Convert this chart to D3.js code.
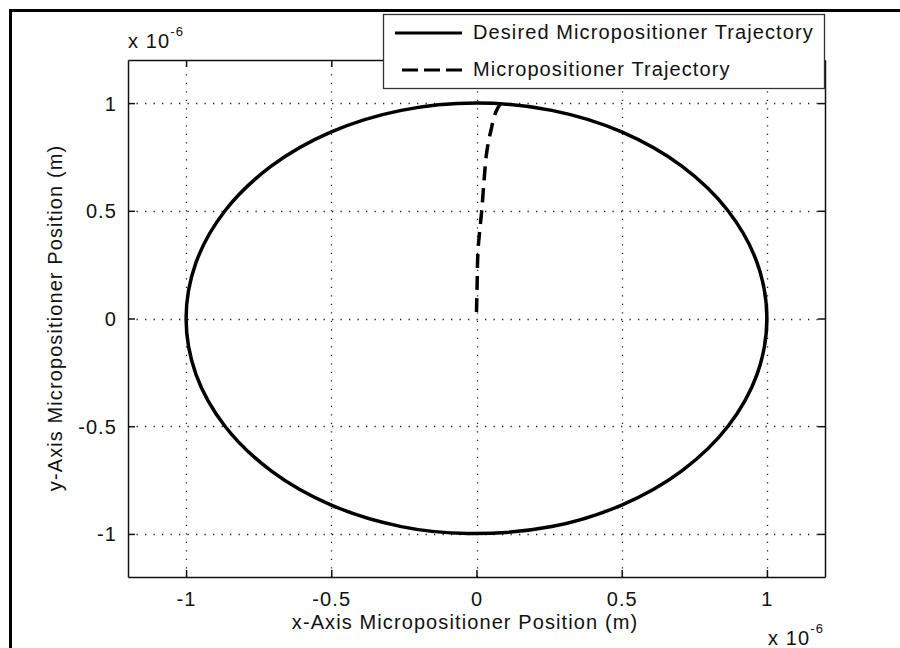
<!DOCTYPE html>
<html>
<head>
<meta charset="utf-8">
<script src="https://cdn.jsdelivr.net/npm/d3@7"></script>
<style>
  html, body { margin: 0; padding: 0; background: #fff; }
  svg { display: block; }
  text { font-family: "Liberation Sans", Arial, sans-serif; fill: #111; }
</style>
</head>
<body>
<svg id="chart" width="900" height="648"></svg>
<script>
// ---- data (units of 1e-6 m) ----
const xTicks = [-1, -0.5, 0, 0.5, 1];
const yTicks = [-1, -0.5, 0, 0.5, 1];
const tickLabels = ["-1", "-0.5", "0", "0.5", "1"];

// Desired trajectory (circle)
const desiredX = [1.000, 0.966, 0.866, 0.707, 0.500, 0.259, 0.000, -0.259, -0.500, -0.707, -0.866, -0.966,
                  -1.000, -0.966, -0.866, -0.707, -0.500, -0.259, -0.030, 0.259, 0.500, 0.707, 0.866, 0.966];
const desiredY = [0.000, 0.259, 0.500, 0.707, 0.866, 0.966, 1.000, 0.966, 0.866, 0.707, 0.500, 0.259,
                  0.000, -0.259, -0.500, -0.707, -0.866, -0.966, -0.998, -0.966, -0.866, -0.707, -0.500, -0.259];

// Actual micropositioner trajectory (dashed)
const actualX = [0.000, 0.002, 0.005, 0.012, 0.018, 0.026, 0.035, 0.050, 0.067, 0.085, 0.107];
const actualY = [0.030, 0.146, 0.310, 0.420, 0.500, 0.640, 0.770, 0.875, 0.960, 1.000, 1.020];

const legendLabels = ["Desired Micropositioner Trajectory", "Micropositioner Trajectory"];

// ---- layout ----
const svg = d3.select("#chart");
const L = 128, R = 825, T = 60, B = 577;
const x = d3.scaleLinear().domain([-1.2, 1.2]).range([L, R]);
const y = d3.scaleLinear().domain([-1.2, 1.2]).range([B, T]);
const fontSize = 20, ls = 1.1;

// figure border
svg.append("rect").attr("x", 10.5).attr("y", 10.5).attr("width", 1000).attr("height", 1000)
  .attr("fill", "#fff").attr("stroke", "#000").attr("stroke-width", 3);

// axes background
svg.append("rect").attr("x", L).attr("y", T).attr("width", R - L).attr("height", B - T).attr("fill", "#fff");

// grid
const grid = svg.append("g").attr("stroke", "#222").attr("stroke-width", 1.3).attr("stroke-dasharray", "1.3,7.2");
grid.selectAll(".gx").data(xTicks).join("line")
  .attr("x1", d => Math.round(x(d)) + 0.5).attr("x2", d => Math.round(x(d)) + 0.5)
  .attr("y1", B).attr("y2", T);
grid.selectAll(".gy").data(yTicks).join("line")
  .attr("y1", d => Math.round(y(d)) + 0.5).attr("y2", d => Math.round(y(d)) + 0.5)
  .attr("x1", L).attr("x2", R);

// axes with inward ticks
const axB = svg.append("g").attr("transform", `translate(0,${B})`)
  .call(d3.axisBottom(x).tickValues(xTicks).tickSizeInner(-7).tickSizeOuter(0).tickFormat((d, i) => tickLabels[i]));
const axT = svg.append("g").attr("transform", `translate(0,${T})`)
  .call(d3.axisTop(x).tickValues(xTicks).tickSizeInner(-7).tickSizeOuter(0).tickFormat(""));
const axLft = svg.append("g").attr("transform", `translate(${L},0)`)
  .call(d3.axisLeft(y).tickValues(yTicks).tickSizeInner(-7).tickSizeOuter(0).tickFormat((d, i) => tickLabels[i]));
const axRgt = svg.append("g").attr("transform", `translate(${R},0)`)
  .call(d3.axisRight(y).tickValues(yTicks).tickSizeInner(-7).tickSizeOuter(0).tickFormat(""));
[axB, axT, axLft, axRgt].forEach(g => {
  g.select(".domain").attr("stroke", "#111").attr("stroke-width", 1.5);
  g.selectAll(".tick line").attr("stroke", "#111").attr("stroke-width", 1.5);
  g.selectAll("text").attr("font-size", fontSize).attr("letter-spacing", ls)
    .attr("font-family", "Liberation Sans, Arial, sans-serif").attr("fill", "#111");
});
axB.selectAll(".tick text").attr("dy", null).attr("y", 29);
axLft.selectAll(".tick text").attr("dy", null).attr("x", -11).attr("y", 7);

// curves
const desired = desiredX.map((v, i) => [v, desiredY[i]]);
const actual = actualX.map((v, i) => [v, actualY[i]]);
svg.append("path").datum(desired)
  .attr("d", d3.line().x(d => x(d[0])).y(d => y(d[1])).curve(d3.curveCatmullRomClosed))
  .attr("fill", "none").attr("stroke", "#000").attr("stroke-width", 3.5);
svg.append("path").datum(actual)
  .attr("d", d3.line().x(d => x(d[0])).y(d => y(d[1])).curve(d3.curveCatmullRom))
  .attr("fill", "none").attr("stroke", "#000").attr("stroke-width", 3.5).attr("stroke-dasharray", "14,8");

// axis labels
svg.append("text").attr("x", 465).attr("y", 629).attr("text-anchor", "middle")
  .attr("font-size", fontSize).attr("letter-spacing", ls).text("x-Axis Micropositioner Position (m)");
svg.append("text").attr("transform", "translate(62,318) rotate(-90)").attr("text-anchor", "middle")
  .attr("font-size", fontSize).attr("letter-spacing", ls).text("y-Axis Micropositioner Position (m)");

// exponent labels
function expLabel(px, py) {
  const t = svg.append("text").attr("x", px).attr("y", py).attr("font-size", fontSize).attr("letter-spacing", ls);
  t.append("tspan").text("x 10");
  t.append("tspan").attr("font-size", 13).attr("dy", -12).text("-6");
}
expLabel(128, 48);
expLabel(768, 645);

// legend
svg.append("rect").attr("x", 383.5).attr("y", 14.5).attr("width", 441).attr("height", 74)
  .attr("fill", "#fff").attr("stroke", "#333").attr("stroke-width", 1.3);
svg.append("line").attr("x1", 395).attr("x2", 462).attr("y1", 33).attr("y2", 33)
  .attr("stroke", "#000").attr("stroke-width", 3.2);
svg.append("line").attr("x1", 402).attr("x2", 462).attr("y1", 70).attr("y2", 70)
  .attr("stroke", "#000").attr("stroke-width", 3.2).attr("stroke-dasharray", "16,6");
svg.append("text").attr("x", 473).attr("y", 39).attr("font-size", fontSize).attr("letter-spacing", ls).text(legendLabels[0]);
svg.append("text").attr("x", 473).attr("y", 76).attr("font-size", fontSize).attr("letter-spacing", ls).text(legendLabels[1]);
</script>
</body>
</html>
